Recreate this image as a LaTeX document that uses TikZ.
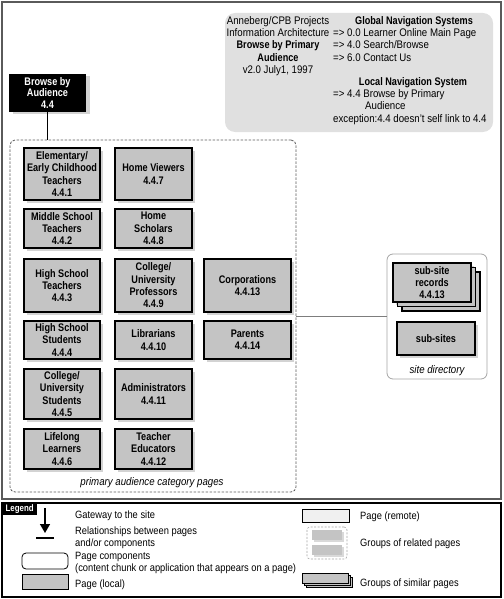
\documentclass[tikz,border=0pt]{standalone}
\usepackage{fontspec}
\setmainfont{Liberation Sans}[FakeStretch=0.88]
\newfontfamily\boxfont{Liberation Sans Bold}[FakeStretch=0.83]
\usetikzlibrary{shadows, arrows.meta}
\definecolor{pageGray}{RGB}{196, 196, 196}
\definecolor{infoGray}{RGB}{224, 224, 224}
\definecolor{remoteGray}{RGB}{240, 240, 240}
\definecolor{frameGray}{RGB}{90, 90, 90}
\definecolor{lineGray}{RGB}{125, 125, 125}

\tikzset{
  page/.style={draw, line width=1.1pt, fill=pageGray, inner sep=0pt, align=center,
    font=\boxfont\fontsize{11}{12.3}\selectfont,
    drop shadow={shadow xshift=2.5pt, shadow yshift=-2.5pt, opacity=.35}},
  group/.style={draw=frameGray, line width=0.8pt, dash pattern=on 2.5pt off 1.5pt, rounded corners=5pt},
  caption/.style={font=\itshape\fontsize{11}{12}\selectfont, inner sep=0pt},
  infotext/.style={font=\fontsize{11}{12.3}\selectfont, inner sep=0pt},
  legendtext/.style={font=\fontsize{10.6}{12}\selectfont, inner sep=0pt, anchor=base west, align=left},
  symbol/.style={draw, line width=0.8pt, inner sep=0pt},
}

\begin{document}
\begin{tikzpicture}[x=1pt, y=-1pt]
        \useasboundingbox (0,0) rectangle (503,599);
        % Frames
        \draw[frameGray, line width=1.3pt] (2,2) rectangle (501,499);
        \draw[line width=1.5pt] (2,503) rectangle (501,597);
        % Project notes
        \node[fill=infoGray, rounded corners=10pt, minimum width=268pt, minimum height=119pt] (info) at (359,72.5) {};
        \node[infotext, align=center, anchor=north] (project) at (278,16) {Anneberg/CPB Projects\\Information Architecture\\{\boxfont Browse by Primary}\\{\boxfont Audience}\\v2.0 July1, 1997};
        \node[infotext, anchor=north, font=\boxfont\fontsize{11}{12.3}\selectfont] (globaltitle) at (414,16) {Global Navigation Systems};
        \node[infotext, align=left, anchor=north west] (globallist) at (333,28.3) {=> 0.0 Learner Online Main Page\\=> 4.0 Search/Browse\\=> 6.0 Contact Us};
        \node[infotext, anchor=north, font=\boxfont\fontsize{11}{12.3}\selectfont] (localtitle) at (413,77) {Local Navigation System};
        \node[infotext, align=left, anchor=north west] (locallist) at (333,89.3) {=> 4.4 Browse by Primary\\\hspace*{32pt}Audience\\exception:4.4 doesn't self link to 4.4};
        % Gateway
        \node[fill=black, text=white, inner sep=0pt, align=center, minimum width=77pt, minimum height=38pt,
          font=\boxfont\fontsize{11}{11.8}\selectfont,
          drop shadow={shadow xshift=4pt, shadow yshift=-2pt, opacity=.35}] (gateway) at (47.5,93) {Browse by\\Audience\\4.4};
        % Primary audience pages
        \node[group, minimum width=286pt, minimum height=352pt] (primary) at (153,316) {};
        \node[page, minimum width=76pt, minimum height=52pt] (elementary) at (62,174) {Elementary/\\Early Childhood\\Teachers\\4.4.1};
        \node[page, minimum width=76pt, minimum height=39pt] (middle) at (62,228.5) {Middle School\\Teachers\\4.4.2};
        \node[page, minimum width=76pt, minimum height=53pt] (hsteachers) at (62,285.5) {High School\\Teachers\\4.4.3};
        \node[page, minimum width=76pt, minimum height=38pt] (hsstudents) at (62,340) {High School\\Students\\4.4.4};
        \node[page, minimum width=76pt, minimum height=50pt] (college) at (62,394) {College/\\University\\Students\\4.4.5};
        \node[page, minimum width=76pt, minimum height=40pt] (lifelong) at (62,449) {Lifelong\\Learners\\4.4.6};
        \node[page, minimum width=77pt, minimum height=52pt] (viewers) at (153.5,174) {Home Viewers\\4.4.7};
        \node[page, minimum width=77pt, minimum height=39pt] (scholars) at (153.5,228.5) {Home\\Scholars\\4.4.8};
        \node[page, minimum width=77pt, minimum height=53pt] (professors) at (153.5,285.5) {College/\\University\\Professors\\4.4.9};
        \node[page, minimum width=77pt, minimum height=38pt] (librarians) at (153.5,340) {Librarians\\4.4.10};
        \node[page, minimum width=77pt, minimum height=50pt] (admins) at (153.5,394) {Administrators\\4.4.11};
        \node[page, minimum width=77pt, minimum height=40pt] (educators) at (153.5,449) {Teacher\\Educators\\4.4.12};
        \node[page, minimum width=87pt, minimum height=53pt] (corporations) at (247.5,285.5) {Corporations\\4.4.13};
        \node[page, minimum width=87pt, minimum height=38pt] (parents) at (247.5,340) {Parents\\4.4.14};
        \node[caption] (primarycap) at (152,483) {primary audience category pages};
        % Site directory
        \node[draw=lineGray!70, line width=0.8pt, rounded corners=6pt, minimum width=100pt, minimum height=125pt] (sitedir) at (437,316.5) {};
        \node[page, minimum width=78pt, minimum height=39pt,
          double copy shadow={shadow xshift=4.5pt, shadow yshift=-4.5pt}] (records) at (432,282.5) {sub-site\\records\\4.4.13};
        \node[page, minimum width=78pt, minimum height=33pt] (subsites) at (436,338.5) {sub-sites};
        \node[caption] (sitecap) at (437,371) {site directory};
        % Connectors
        \draw[line width=1.1pt] (gateway.south) -- (gateway.south |- primary.north);
        \draw[lineGray, line width=1pt] (primary.east |- sitedir.west) -- (sitedir.west);
        % Legend
        \node[fill=black, text=white, inner sep=0pt, anchor=north west, minimum width=35pt, minimum height=12pt,
          font=\boxfont\fontsize{9.5}{10}\selectfont] (legendtab) at (2,503) {Legend};
        \draw[line width=1.4pt, -{Triangle[length=9pt, width=10pt]}] (45,508) -- (45,533);
        \draw[line width=2pt] (36,538) -- (54,538);
        \node[symbol, rounded corners=4pt, fill=white, minimum width=46pt, minimum height=16pt] (componentkey) at (45,561) {};
        \node[symbol, fill=pageGray, minimum width=46pt, minimum height=15pt] (localkey) at (45,581.5) {};
        \node[legendtext] (gatewaytext) at (75,518.5) {Gateway to the site};
        \node[legendtext] (relationtext) at (75,546) {Relationships between pages\\and/or components};
        \node[legendtext] (componenttext) at (75,571) {Page components\\(content chunk or application that appears on a page)};
        \node[legendtext] (localtext) at (75,587) {Page (local)};
        \node[symbol, fill=remoteGray, minimum width=47pt, minimum height=13pt] (remotekey) at (325.5,515.5) {};
        \node[draw=lineGray!70, line width=0.6pt, dash pattern=on 2pt off 1.5pt, rounded corners=3pt,
          minimum width=40pt, minimum height=32pt] (relatedkey) at (327,543) {};
        \node[fill=pageGray, inner sep=0pt, minimum width=30pt, minimum height=10pt,
          drop shadow={shadow xshift=1.5pt, shadow yshift=-1.5pt, opacity=.3}] (relatedone) at (327,535) {};
        \node[fill=pageGray, inner sep=0pt, minimum width=30pt, minimum height=10pt,
          drop shadow={shadow xshift=1.5pt, shadow yshift=-1.5pt, opacity=.3}] (relatedtwo) at (327,550) {};
        \node[symbol, fill=pageGray, minimum width=46pt, minimum height=10pt,
          double copy shadow={shadow xshift=2pt, shadow yshift=-2pt}] (similarkey) at (325,578) {};
        \node[legendtext] (remotetext) at (360,519) {Page (remote)};
        \node[legendtext] (relatedtext) at (360,546) {Groups of related pages};
        \node[legendtext] (similartext) at (360,586) {Groups of similar pages};
      \end{tikzpicture}
\end{document}
